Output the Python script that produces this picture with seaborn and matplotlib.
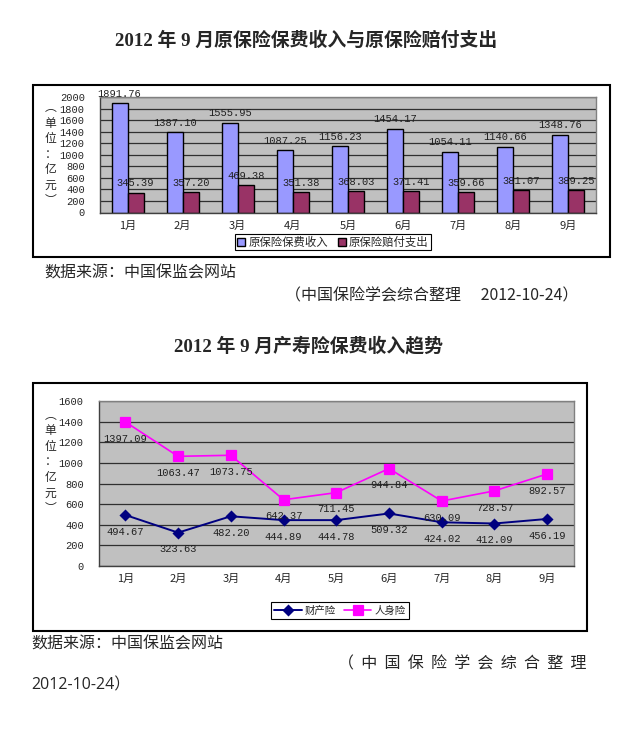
import pandas as pd
import matplotlib.pyplot as plt
import seaborn as sns
from matplotlib.patches import Rectangle
from matplotlib.ticker import FixedLocator

# data
months = ['1月', '2月', '3月', '4月', '5月', '6月', '7月', '8月', '9月']
premium = [1891.76, 1387.10, 1555.95, 1087.25, 1156.23, 1454.17, 1054.11, 1140.66, 1348.76]
claims = [345.39, 357.20, 469.38, 351.38, 368.03, 371.41, 359.66, 381.07, 389.25]
property_ins = [494.67, 323.63, 482.20, 444.89, 444.78, 509.32, 424.02, 412.09, 456.19]
life_ins = [1397.09, 1063.47, 1073.75, 642.37, 711.45, 944.84, 630.09, 728.57, 892.57]
bar_series = ['原保险保费收入', '原保险赔付支出']
line_series = ['财产险', '人身险']
bar_ticks = list(range(0, 2001, 200))
line_ticks = list(range(0, 1601, 200))

sns.set_style('white')
plt.rcParams['font.family'] = ['Noto Sans CJK SC', 'DejaVu Sans']

W, H = 642, 730
CJK = ['Noto Sans CJK SC', 'DejaVu Sans']
NUM = ['Liberation Mono', 'Noto Sans CJK SC']
TITLE = ['Liberation Serif', 'Noto Sans CJK SC']
UNIT = '︵\n单\n位\n：\n亿\n元\n︶'


def fbox(x0, y0, x1, y1):
    # pixel box (top-left origin) -> figure fraction rect
    return [x0 / W, 1 - y1 / H, (x1 - x0) / W, (y1 - y0) / H]


def style_axes(ax, ticks, top):
    ax.set_facecolor('#C0C0C0')
    ax.set_ylim(0, top)
    ax.set_xlim(-0.5, len(months) - 0.5)
    ax.set_yticks(ticks)
    ax.yaxis.grid(True, color='#303030', lw=0.9)
    ax.xaxis.grid(False)
    ax.set_axisbelow(True)
    ax.set_xlabel('')
    ax.set_ylabel('')
    for s in ax.spines.values():
        s.set_color('#808080')
        s.set_linewidth(1)
    ax.spines['bottom'].set_color('#404040')
    ax.spines['left'].set_color('#404040')
    ax.xaxis.set_minor_locator(FixedLocator([i + 0.5 for i in range(len(months) - 1)]))
    ax.tick_params(axis='x', which='major', length=0, pad=6, labelsize=8)
    ax.tick_params(axis='x', which='minor', length=3, direction='inout', color='#404040')
    ax.tick_params(axis='y', length=3, direction='out', color='#404040', pad=8, labelsize=7.5)
    for lab in ax.get_yticklabels():
        lab.set_fontfamily(NUM)
    for lab in ax.get_xticklabels():
        lab.set_fontfamily(CJK)


def unit_label(y_px):
    fig.text(50.5 / W, 1 - y_px / H, UNIT, ha='center', va='center',
             fontsize=8.5, linespacing=1.25, family=CJK)


fig = plt.figure(figsize=(W / 100, H / 100), dpi=100)

# ---------- top chart: bars ----------
fig.text(306 / W, 1 - 41 / H, '2012 年 9 月原保险保费收入与原保险赔付支出',
         ha='center', va='center', fontsize=13.6, fontweight='bold', family=TITLE)
fig.patches.append(Rectangle((32.7 / W, 1 - 256.7 / H), (610 - 32.7) / W, (256.7 - 84.7) / H,
                             transform=fig.transFigure, fill=False, ec='black', lw=1.5))

ax1 = fig.add_axes(fbox(100, 97, 596, 212.5))
df_bar = pd.DataFrame({
    '月份': months * 2,
    '金额': premium + claims,
    '类别': [bar_series[0]] * len(months) + [bar_series[1]] * len(months),
})
sns.barplot(data=df_bar, x='月份', y='金额', hue='类别',
            palette={bar_series[0]: '#9999FF', bar_series[1]: '#993366'}, saturation=1,
            width=0.58, edgecolor='black', linewidth=1, ax=ax1)
style_axes(ax1, bar_ticks, 2000)
for cont in ax1.containers:
    ax1.bar_label(cont, fmt='%.2f', padding=3, fontsize=7.5, family=NUM, color='#202020')
ax1.legend(loc='center', bbox_to_anchor=(333 / W, 1 - 242 / H), bbox_transform=fig.transFigure,
           ncol=2, fancybox=False, edgecolor='black', framealpha=1,
           prop={'family': CJK, 'size': 8.2}, handlelength=0.7, handleheight=0.7,
           columnspacing=0.8, handletextpad=0.3, borderpad=0.2)
ax1.get_legend().get_frame().set_linewidth(0.8)
unit_label(154)

fig.text(44 / W, 1 - 273 / H, '数据来源：中国保监会网站', ha='left', va='center',
         fontsize=11.5, family=CJK)
fig.text(578 / W, 1 - 296 / H, '（中国保险学会综合整理　 2012-10-24）', ha='right', va='center',
         fontsize=11.5, family=['Noto Sans CJK SC', 'Open Sans'])

# ---------- bottom chart: lines ----------
fig.text(309 / W, 1 - 346 / H, '2012 年 9 月产寿险保费收入趋势',
         ha='center', va='center', fontsize=13.6, fontweight='bold', family=TITLE)
fig.patches.append(Rectangle((33 / W, 1 - 631 / H), (586.7 - 33) / W, (631 - 382.7) / H,
                             transform=fig.transFigure, fill=False, ec='black', lw=1.5))

ax2 = fig.add_axes(fbox(99, 401, 573.5, 566))
sns.pointplot(x=months, y=property_ins, color='#000080', markers='D', linestyles='-',
              markersize=5, linewidth=1.4, errorbar=None, label=line_series[0], ax=ax2)
sns.pointplot(x=months, y=life_ins, color='#FF00FF', markers='s', linestyles='-',
              markersize=7, linewidth=1.2, errorbar=None, label=line_series[1], ax=ax2)
style_axes(ax2, line_ticks, 1600)
for vals in (property_ins, life_ins):
    for i, v in enumerate(vals):
        ax2.annotate(f'{v:.2f}', (i, v), xytext=(0, -12), textcoords='offset points',
                     ha='center', va='center', fontsize=7.5, family=NUM, color='#202020')
ax2.legend(loc='center', bbox_to_anchor=(340 / W, 1 - 610.5 / H), bbox_transform=fig.transFigure,
           ncol=2, fancybox=False, edgecolor='black', framealpha=1,
           prop={'family': CJK, 'size': 7.5}, handlelength=2.6,
           columnspacing=0.8, handletextpad=0.3, borderpad=0.35)
ax2.get_legend().get_frame().set_linewidth(0.8)
unit_label(462)

fig.text(31 / W, 1 - 644 / H, '数据来源：中国保监会网站', ha='left', va='center',
         fontsize=11.5, family=CJK)
fig.text(587 / W, 1 - 664 / H, '（  中  国  保  险  学  会  综  合  整  理', ha='right', va='center',
         fontsize=11.5, family=CJK)
fig.text(31 / W, 1 - 685 / H, '2012-10-24）', ha='left', va='center',
         fontsize=11.5, family=['Open Sans', 'Noto Sans CJK SC'])

fig.savefig('out.png', dpi=100)
